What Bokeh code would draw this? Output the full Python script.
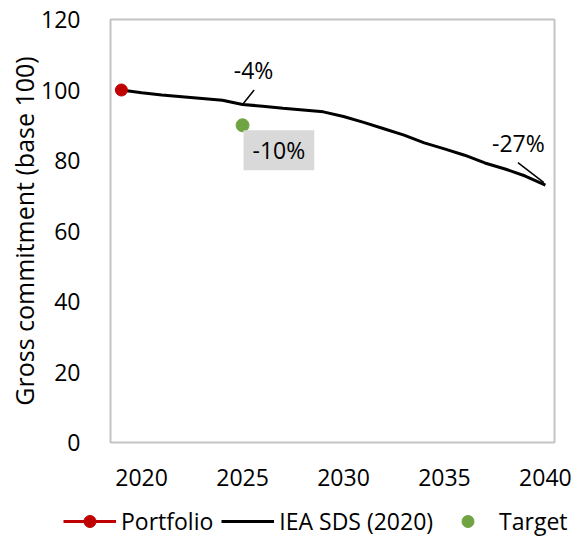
from bokeh.plotting import figure
from bokeh.models import Range1d, Legend, LegendItem, Label, FixedTicker
from bokeh.layouts import column
from bokeh.embed import file_html
from bokeh.resources import INLINE

# ---- data ----
years = [2019, 2020, 2021, 2022, 2023, 2024, 2025, 2026, 2027, 2028, 2029,
         2030, 2031, 2032, 2033, 2034, 2035, 2036, 2037, 2038, 2039, 2040]
iea_sds = [100.0, 99.2, 98.6, 98.1, 97.6, 97.1, 95.9, 95.4, 94.8, 94.3, 93.8,
           92.5, 90.8, 89.0, 87.2, 85.0, 83.3, 81.5, 79.3, 77.6, 75.6, 73.0]
portfolio_years = [2019]
portfolio_values = [100.0]
target_years = [2025]
target_values = [90.0]
x_ticks = [2020, 2025, 2030, 2035, 2040]
y_ticks = [0, 20, 40, 60, 80, 100, 120]
label_iea_2025 = "-4%"
label_iea_2040 = "-27%"
label_target = "-10%"

FONT = "Open Sans"
FS = "23px"
RED = "#c00000"
GREEN = "#70a442"

p = figure(width=581, height=500, output_backend="svg", toolbar_location=None,
           x_range=Range1d(2018.46, 2040.45), y_range=Range1d(0, 120),
           min_border_left=110, min_border_right=27, min_border_top=19,
           min_border_bottom=58)
p.background_fill_color = "white"
p.border_fill_color = "white"
p.outline_line_color = "#c4c4c4"
p.outline_line_width = 2
p.xgrid.visible = False
p.ygrid.visible = False

for ax in (p.xaxis[0], p.yaxis[0]):
    ax.axis_line_color = None
    ax.major_tick_line_color = None
    ax.minor_tick_line_color = None
    ax.major_tick_out = 0
    ax.major_tick_in = 0
    ax.major_label_text_font = FONT
    ax.major_label_text_font_size = FS
    ax.major_label_text_color = "black"

p.xaxis.ticker = FixedTicker(ticks=x_ticks)
p.yaxis.ticker = FixedTicker(ticks=y_ticks)
p.xaxis.major_label_standoff = 26
p.yaxis.major_label_standoff = 30
p.yaxis.axis_label = "Gross commitment (base 100)"
p.yaxis.axis_label_text_font = FONT
p.yaxis.axis_label_text_font_size = "25px"
p.yaxis.axis_label_text_font_style = "normal"
p.yaxis.axis_label_text_color = "black"
p.yaxis.axis_label_standoff = -3

# ---- glyphs ----
p.line(years, iea_sds, line_color="black", line_width=3)
p.scatter(portfolio_years, portfolio_values, size=12, color=RED)
p.scatter(target_years, target_values, size=13, color=GREEN)

# ---- annotations ----
PX_X = 20.2       # px per year
PX_Y = 423 / 120  # px per unit
i25 = years.index(2025)
i40 = years.index(2040)

x0, y0 = years[i25], iea_sds[i25]
p.segment(x0=[x0], y0=[y0], x1=[x0 + 11.6 / PX_X], y1=[y0 + 14.4 / PX_Y],
          line_color="black", line_width=1.5)
p.add_layout(Label(x=x0, y=y0, x_offset=11, y_offset=34, text=label_iea_2025,
                   text_font=FONT, text_font_size=FS, text_color="black",
                   text_align="center", text_baseline="middle"))

x1, y1 = years[i40], iea_sds[i40]
p.segment(x0=[x1 - 1.5 / PX_X], y0=[y1 + 2.5 / PX_Y], x1=[x1 - 27.5 / PX_X],
          y1=[y1 + 22.5 / PX_Y], line_color="black", line_width=1.5)
p.add_layout(Label(x=x1, y=y1, x_offset=-27, y_offset=42, text=label_iea_2040,
                   text_font=FONT, text_font_size=FS, text_color="black",
                   text_align="center", text_baseline="middle"))

p.add_layout(Label(x=target_years[0], y=target_values[0], x_offset=1, y_offset=-5,
                   text=label_target, text_font=FONT, text_font_size=FS,
                   text_color="black", text_align="left", text_baseline="top",
                   background_fill_color="#d9d9d9", padding=(9, 4)))

# ---- legend (own strip below the chart) ----
lf = figure(width=581, height=37, output_backend="svg", toolbar_location=None,
            x_range=Range1d(0, 1), y_range=Range1d(0, 1),
            x_axis_type=None, y_axis_type=None, min_border=0)
lf.outline_line_color = None
lf.xgrid.visible = False
lf.ygrid.visible = False
for fig in (p, lf):
    if "frame_align" in fig.properties():
        fig.frame_align = False
l_port_line = lf.line(portfolio_years, portfolio_values, line_color=RED, line_width=3)
l_port_pt = lf.scatter(portfolio_years, portfolio_values, color=RED)
l_iea = lf.line(years, iea_sds, line_color="black", line_width=3)
l_target = lf.scatter(target_years, target_values, color=GREEN)

legend = Legend(items=[
    LegendItem(label="Portfolio", renderers=[l_port_line, l_port_pt]),
    LegendItem(label="IEA SDS (2020)", renderers=[l_iea]),
    LegendItem(label="Target", renderers=[l_target]),
], orientation="horizontal", location=(63, 0), margin=0, padding=0,
    spacing=8, glyph_width=53, glyph_height=30, label_standoff=5,
    label_text_font=FONT, label_text_font_size=FS, label_text_color="black",
    border_line_color=None, background_fill_alpha=0)
lf.add_layout(legend, "center")

open("out.html", "w").write(file_html(column(p, lf, spacing=0), INLINE))
